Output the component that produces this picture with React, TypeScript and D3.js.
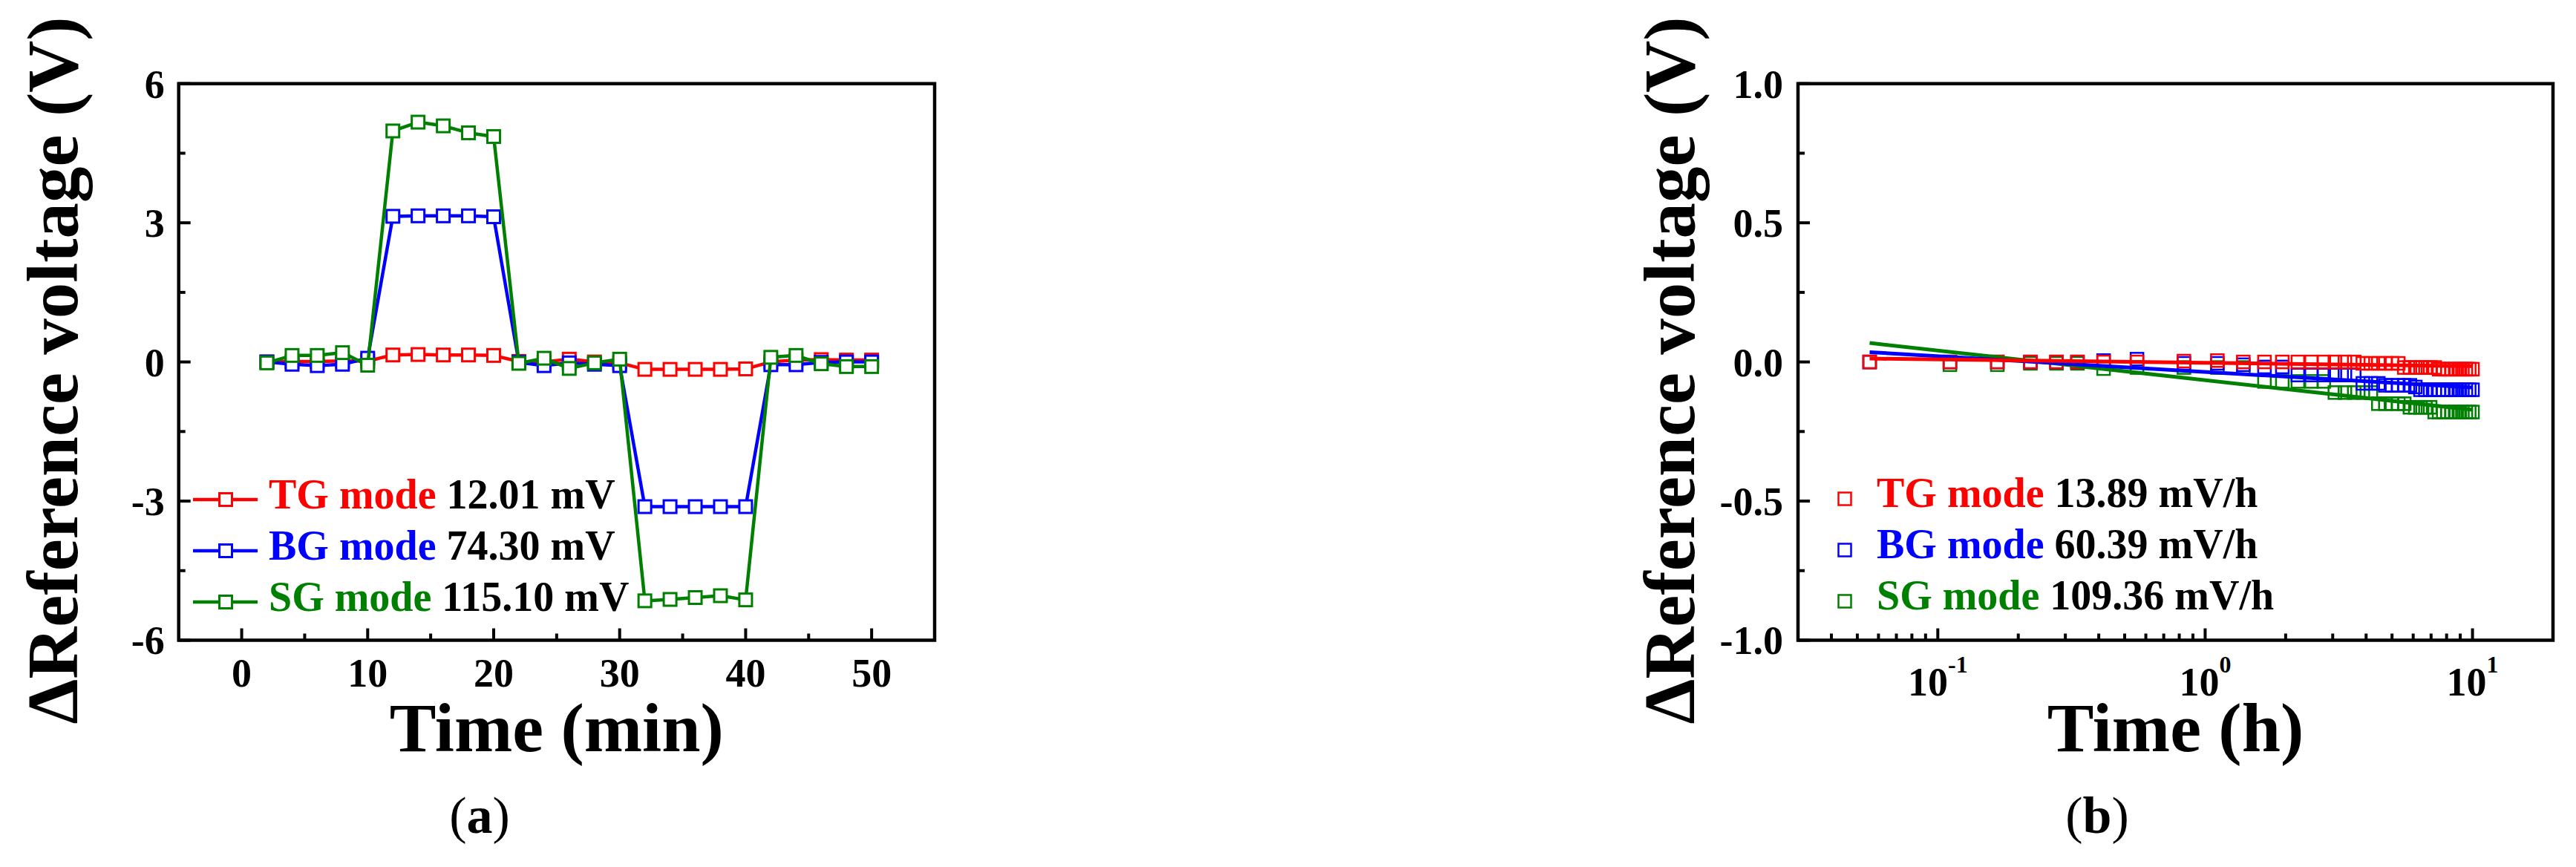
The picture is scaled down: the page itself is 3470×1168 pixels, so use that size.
import React from 'react';
import * as d3 from 'd3';

// ---------- Panel (a) data ----------
const timeMin = [2, 4, 6, 8, 10, 12, 14, 16, 18, 20, 22, 24, 26, 28, 30, 32, 34, 36, 38, 40, 42, 44, 46, 48, 50];
const tgA = [0.0, 0.01, 0.01, 0.02, 0.02, 0.15, 0.16, 0.15, 0.15, 0.14, 0.01, 0.0, 0.06, 0.0, -0.02, -0.16, -0.16, -0.16, -0.16, -0.15, 0.0, 0.04, 0.05, 0.04, 0.04];
const bgA = [0.0, -0.05, -0.08, -0.05, 0.08, 3.14, 3.15, 3.15, 3.15, 3.13, -0.01, -0.08, -0.02, -0.05, -0.08, -3.12, -3.12, -3.12, -3.12, -3.12, -0.06, -0.06, -0.01, 0.0, 0.0];
const sgA = [-0.02, 0.14, 0.14, 0.2, -0.07, 4.98, 5.17, 5.09, 4.94, 4.86, -0.03, 0.08, -0.14, -0.02, 0.06, -5.15, -5.12, -5.08, -5.04, -5.13, 0.1, 0.14, -0.04, -0.1, -0.1];
const xTicksA = [0, 10, 20, 30, 40, 50];
const xMinorA = [5, 15, 25, 35, 45];
const yTicksA = [6, 3, 0, -3, -6];
const yMinorA = [4.5, 1.5, -1.5, -4.5];

// ---------- Panel (b) data ----------
const timeH = [0.0556, 0.111, 0.167, 0.222, 0.278, 0.333, 0.417, 0.556, 0.833, 1.111, 1.389, 1.667, 1.944, 2.222, 2.5, 2.778, 3.056, 3.333, 3.611, 3.889, 4.167, 4.444, 4.722, 5.0, 5.278, 5.556, 5.833, 6.111, 6.389, 6.667, 6.944, 7.222, 7.5, 7.778, 8.056, 8.333, 8.611, 8.889, 9.167, 9.444, 9.722, 10.0];
const tgB = [0.0, 0.0, 0.0, 0.0, 0.0, 0.0, 0.0, 0.0, 0.003, 0.005, 0.0, 0.0, 0.0, 0.0, 0.0, 0.0, 0.0, 0.0, 0.0, -0.005, -0.005, -0.005, -0.005, -0.005, -0.005, -0.02, -0.02, -0.02, -0.02, -0.02, -0.02, -0.02, -0.026, -0.026, -0.026, -0.026, -0.026, -0.026, -0.026, -0.026, -0.026, -0.026];
const bgB = [0.0, 0.0, 0.0, 0.0, 0.0, 0.0, 0.005, 0.01, -0.005, -0.005, -0.01, -0.018, -0.018, -0.047, -0.047, -0.047, -0.047, -0.047, -0.047, -0.077, -0.077, -0.077, -0.084, -0.084, -0.084, -0.084, -0.084, -0.09, -0.1, -0.1, -0.1, -0.1, -0.1, -0.1, -0.1, -0.1, -0.1, -0.1, -0.1, -0.1, -0.1, -0.1];
const sgB = [0.0, -0.01, -0.01, -0.005, -0.005, -0.005, -0.024, -0.02, -0.02, -0.02, -0.02, -0.07, -0.07, -0.07, -0.07, -0.07, -0.11, -0.11, -0.11, -0.11, -0.11, -0.15, -0.15, -0.15, -0.15, -0.15, -0.163, -0.163, -0.163, -0.163, -0.163, -0.18, -0.18, -0.18, -0.18, -0.18, -0.18, -0.18, -0.18, -0.18, -0.18, -0.18];
const fitTime = [0.0556, 10];
const fitTG = [0.012, -0.015];
const fitBG = [0.035, -0.092];
const fitSG = [0.068, -0.172];
const xTicksB = [0.1, 1, 10];
const xTickExpB = ['-1', '0', '1'];
const xMinorB = [0.04, 0.05, 0.06, 0.07, 0.08, 0.09, 0.2, 0.3, 0.4, 0.5, 0.6, 0.7, 0.8, 0.9, 2, 3, 4, 5, 6, 7, 8, 9];
const yTicksB = [1.0, 0.5, 0.0, -0.5, -1.0];
const yTickLabelsB = ['1.0', '0.5', '0.0', '-0.5', '-1.0'];
const yMinorB = [0.75, 0.25, -0.25, -0.75];

// ---------- Legend ----------
const modeNames = ['TG mode', 'BG mode', 'SG mode'];
const legendValuesA = ['12.01 mV', '74.30 mV', '115.10 mV'];
const legendValuesB = ['13.89 mV/h', '60.39 mV/h', '109.36 mV/h'];
const colors = ['#ff0000', '#0000ff', '#008000'];

const FONT = "'Liberation Serif', 'Times New Roman', Times, serif";

const W = 3470;
const H = 1168;

const A = { left: 240.7, right: 1259, top: 112.7, bottom: 862.5 };
const B = { left: 2422, right: 3439, top: 112.7, bottom: 862.5 };

export default function App() {
  const xA = d3.scaleLinear().domain([-5, 55]).range([A.left, A.right]);
  const yA = d3.scaleLinear().domain([-6, 6]).range([A.bottom, A.top]);
  const xB = d3.scaleLog().domain([0.03, 20]).range([B.left, B.right]);
  const yB = d3.scaleLinear().domain([-1, 1]).range([B.bottom, B.top]);

  const lineA = d3
    .line<[number, number]>()
    .x((d) => xA(d[0]))
    .y((d) => yA(d[1]));
  const lineB = d3
    .line<[number, number]>()
    .x((d) => xB(d[0]))
    .y((d) => yB(d[1]));

  const seriesA = [tgA, bgA, sgA];
  const seriesB = [tgB, bgB, sgB];
  const fitsB = [fitTG, fitBG, fitSG];

  const majorLen = 16;
  const minorLen = 9;
  const tickW = 4;
  const tickFont = 54;
  const titleFont = 94;
  const mk = 17;

  return (
    <svg
      width={W}
      height={H}
      viewBox={`0 0 ${W} ${H}`}
      style={{ position: 'absolute', left: 0, top: 0, background: '#fff' }}
      fontFamily={FONT}
    >
      <rect x={0} y={0} width={W} height={H} fill="#fff" />

      {/* ================= Panel (a) ================= */}
      <g>
        {seriesA.map((vals, si) => {
          const pts = timeMin.map((t, i) => [t, vals[i]] as [number, number]);
          return (
            <g key={si}>
              <path d={lineA(pts) || ''} fill="none" stroke={colors[si]} strokeWidth={4.5} strokeLinejoin="round" />
              {pts.map((p, i) => (
                <rect
                  key={i}
                  x={xA(p[0]) - mk / 2}
                  y={yA(p[1]) - mk / 2}
                  width={mk}
                  height={mk}
                  fill="#fff"
                  stroke={colors[si]}
                  strokeWidth={3}
                />
              ))}
            </g>
          );
        })}

        <rect
          x={A.left}
          y={A.top}
          width={A.right - A.left}
          height={A.bottom - A.top}
          fill="none"
          stroke="#000"
          strokeWidth={4.5}
        />
        {xTicksA.map((t) => (
          <g key={'xa' + t}>
            <line x1={xA(t)} x2={xA(t)} y1={A.bottom} y2={A.bottom - majorLen} stroke="#000" strokeWidth={tickW} />
            <text x={xA(t)} y={925} textAnchor="middle" fontSize={tickFont} fontWeight="bold">
              {t}
            </text>
          </g>
        ))}
        {xMinorA.map((t) => (
          <line key={'xam' + t} x1={xA(t)} x2={xA(t)} y1={A.bottom} y2={A.bottom - minorLen} stroke="#000" strokeWidth={tickW} />
        ))}
        {yTicksA.map((v) => (
          <g key={'ya' + v}>
            <line x1={A.left} x2={A.left + majorLen} y1={yA(v)} y2={yA(v)} stroke="#000" strokeWidth={tickW} />
            <text x={A.left - 19} y={yA(v)} dy="0.35em" textAnchor="end" fontSize={tickFont} fontWeight="bold">
              {String(v)}
            </text>
          </g>
        ))}
        {yMinorA.map((v) => (
          <line key={'yam' + v} x1={A.left} x2={A.left + minorLen} y1={yA(v)} y2={yA(v)} stroke="#000" strokeWidth={tickW} />
        ))}

        {modeNames.map((name, i) => {
          const ly = 673 + i * 69;
          return (
            <g key={'lega' + i}>
              <line x1={260} x2={347} y1={ly} y2={ly} stroke={colors[i]} strokeWidth={4.5} />
              <rect x={304 - mk / 2} y={ly - mk / 2} width={mk} height={mk} fill="#fff" stroke={colors[i]} strokeWidth={3} />
              <text x={362} y={ly + 11.5} fontSize={56} fontWeight="bold">
                <tspan fill={colors[i]}>{name}</tspan>
                <tspan fill="#000">{' ' + legendValuesA[i]}</tspan>
              </text>
            </g>
          );
        })}

        <text x={(A.left + A.right) / 2} y={1012} textAnchor="middle" fontSize={titleFont} fontWeight="bold">
          Time (min)
        </text>
        <text transform={`translate(104, 499) rotate(-90)`} textAnchor="middle" fontSize={97} fontWeight="bold">
          ΔReference voltage (V)
        </text>
        <text x={646} y={1122} textAnchor="middle" fontSize={70}>
          (<tspan fontWeight="bold">a</tspan>)
        </text>
      </g>

      {/* ================= Panel (b) ================= */}
      <g>
        {[2, 1, 0].map((si) => (
          <g key={'sb' + si}>
            {timeH.map((t, i) => (
              <rect
                key={i}
                x={xB(t) - mk / 2}
                y={yB(seriesB[si][i]) - mk / 2}
                width={mk}
                height={mk}
                fill="none"
                stroke={colors[si]}
                strokeWidth={2.5}
              />
            ))}
          </g>
        ))}
        {[2, 1, 0].map((si) => {
          const pts = fitTime.map((t, i) => [t, fitsB[si][i]] as [number, number]);
          return <path key={'fb' + si} d={lineB(pts) || ''} fill="none" stroke={colors[si]} strokeWidth={5} />;
        })}

        <rect
          x={B.left}
          y={B.top}
          width={B.right - B.left}
          height={B.bottom - B.top}
          fill="none"
          stroke="#000"
          strokeWidth={4.5}
        />
        {xTicksB.map((t, i) => (
          <g key={'xb' + t}>
            <line x1={xB(t)} x2={xB(t)} y1={B.bottom} y2={B.bottom - majorLen} stroke="#000" strokeWidth={tickW} />
            <text x={xB(t)} y={937} textAnchor="middle" fontSize={tickFont} fontWeight="bold">
              10
              <tspan dy={-31} fontSize={32}>
                {xTickExpB[i]}
              </tspan>
            </text>
          </g>
        ))}
        {xMinorB.map((t) => (
          <line key={'xbm' + t} x1={xB(t)} x2={xB(t)} y1={B.bottom} y2={B.bottom - minorLen} stroke="#000" strokeWidth={tickW} />
        ))}
        {yTicksB.map((v, i) => (
          <g key={'yb' + v}>
            <line x1={B.left} x2={B.left + majorLen} y1={yB(v)} y2={yB(v)} stroke="#000" strokeWidth={tickW} />
            <text x={B.left - 20} y={yB(v)} dy="0.35em" textAnchor="end" fontSize={tickFont} fontWeight="bold">
              {yTickLabelsB[i]}
            </text>
          </g>
        ))}
        {yMinorB.map((v) => (
          <line key={'ybm' + v} x1={B.left} x2={B.left + minorLen} y1={yB(v)} y2={yB(v)} stroke="#000" strokeWidth={tickW} />
        ))}

        {modeNames.map((name, i) => {
          const ly = 672 + i * 69;
          return (
            <g key={'legb' + i}>
              <rect x={2485 - mk / 2} y={ly - mk / 2} width={mk} height={mk} fill="none" stroke={colors[i]} strokeWidth={2.5} />
              <text x={2528} y={ly + 11} fontSize={56} fontWeight="bold">
                <tspan fill={colors[i]}>{name}</tspan>
                <tspan fill="#000">{' ' + legendValuesB[i]}</tspan>
              </text>
            </g>
          );
        })}

        <text x={(B.left + B.right) / 2} y={1012} textAnchor="middle" fontSize={titleFont} fontWeight="bold">
          Time (h)
        </text>
        <text transform={`translate(2282, 499) rotate(-90)`} textAnchor="middle" fontSize={97} fontWeight="bold">
          ΔReference voltage (V)
        </text>
        <text x={2825} y={1122} textAnchor="middle" fontSize={70}>
          (<tspan fontWeight="bold">b</tspan>)
        </text>
      </g>
    </svg>
  );
}
